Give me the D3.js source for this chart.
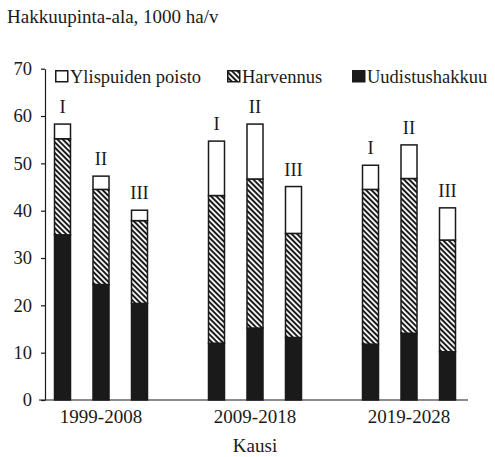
<!DOCTYPE html>
<html>
<head>
<meta charset="utf-8">
<script src="https://cdn.jsdelivr.net/npm/d3@7"></script>
<style>
body{margin:0;background:#fff;}
text{font-family:"Liberation Serif","Times New Roman",serif;fill:#1a1a1a;}
</style>
</head>
<body>
<svg id="chart" width="495" height="457"></svg>
<script>
// kaudet ja vaihtoehdot
var periods = ["1999-2008", "2009-2018", "2019-2028"];
var options = ["I", "II", "III"];
var series = ["Uudistushakkuu", "Harvennus", "Ylispuiden poisto"];
var legendOrder = ["Ylispuiden poisto", "Harvennus", "Uudistushakkuu"];
var yTicks = [0, 10, 20, 30, 40, 50, 60, 70];

// 1000 ha/v, järjestys: kausi x vaihtoehto
var uudistus = [34.9, 24.4, 20.4, 12.0, 15.2, 13.2, 11.8, 14.1, 10.2];
var harvennus = [20.3, 20.1, 17.5, 31.2, 31.5, 22.0, 32.7, 32.7, 23.6];
var ylispuut = [3.1, 2.8, 2.2, 11.5, 11.6, 9.9, 5.1, 7.1, 6.8];

var rows = [];
periods.forEach(function(p, i){
	options.forEach(function(o, j){
		var k = i*3 + j;
		rows.push({period:p, option:o, "Uudistushakkuu":uudistus[k], "Harvennus":harvennus[k], "Ylispuiden poisto":ylispuut[k]});
	});
});

var svg = d3.select("#chart");
var ink = "#1a1a1a";
var fs = "18.5px";

// hatch
var defs = svg.append("defs");
var pat = defs.append("pattern")
	.attr("id","hatch")
	.attr("patternUnits","userSpaceOnUse")
	.attr("width",3.8).attr("height",3.8)
	.attr("patternTransform","rotate(45)");
pat.append("rect").attr("width",3.8).attr("height",3.8).attr("fill","#fff");
pat.append("rect").attr("width",3.8).attr("height",2).attr("fill",ink);

var fills = {"Uudistushakkuu":ink, "Harvennus":"url(#hatch)", "Ylispuiden poisto":"#fff"};

var y = d3.scaleLinear().domain([0,70]).range([400, 68.7]);
var x0 = d3.scaleBand().domain(periods).range([24, 486]);
var x1 = d3.scalePoint().domain(options).range([38.5, 115.5]);
var barW = 16;

var stack = d3.stack().keys(series)(rows);

// title
svg.append("text").attr("x",7).attr("y",23).style("font-size","19px")
	.text("Hakkuupinta-ala, 1000 ha/v");

// y axis
var yAxis = svg.append("g").attr("transform","translate(45,0)")
	.call(d3.axisLeft(y).tickValues(yTicks).tickSize(4).tickPadding(9).tickSizeOuter(0));
yAxis.select(".domain").attr("stroke",ink).attr("stroke-width",1.2);
yAxis.selectAll(".tick line").attr("stroke",ink).attr("stroke-width",1.2);
yAxis.selectAll(".tick text").style("font-size",fs).style("font-family","Liberation Serif").attr("fill",ink);

// x baseline
svg.append("line").attr("x1",39).attr("x2",468).attr("y1",y(0)).attr("y2",y(0))
	.attr("stroke",ink).attr("stroke-width",1.2);

// bars
stack.forEach(function(layer){
	svg.append("g").selectAll("rect").data(layer).enter().append("rect")
		.attr("x",function(d){return x0(d.data.period)+x1(d.data.option)-barW/2})
		.attr("y",function(d){return y(d[1])})
		.attr("width",barW)
		.attr("height",function(d){return y(d[0])-y(d[1])})
		.attr("fill",fills[layer.key])
		.attr("stroke",ink).attr("stroke-width",1.5);
});

// roman labels
svg.append("g").selectAll("text").data(rows).enter().append("text")
	.attr("x",function(d){return x0(d.period)+x1(d.option)})
	.attr("y",function(d){return y(d.Uudistushakkuu+d.Harvennus+d["Ylispuiden poisto"])-11})
	.attr("text-anchor","middle").style("font-size",fs)
	.text(function(d){return d.option});

// period labels
svg.append("g").selectAll("text").data(periods).enter().append("text")
	.attr("x",function(d){return x0(d)+x0.bandwidth()/2})
	.attr("y",423).attr("text-anchor","middle").style("font-size","19px")
	.text(function(d){return d});

svg.append("text").attr("x",255).attr("y",452).attr("text-anchor","middle")
	.style("font-size","19px").text("Kausi");

// legend
var legX = [55, 227, 352];
var leg = svg.append("g").selectAll("g").data(legendOrder).enter().append("g")
	.attr("transform",function(d,i){return "translate("+legX[i]+",70)"});
leg.append("rect").attr("x",0.75).attr("y",0.75).attr("width",12).attr("height",11)
	.attr("fill",function(d){return fills[d]}).attr("stroke",ink).attr("stroke-width",1.5);
leg.append("text").attr("x",15).attr("y",13).style("font-size",fs)
	.text(function(d){return d});
</script>
</body>
</html>
